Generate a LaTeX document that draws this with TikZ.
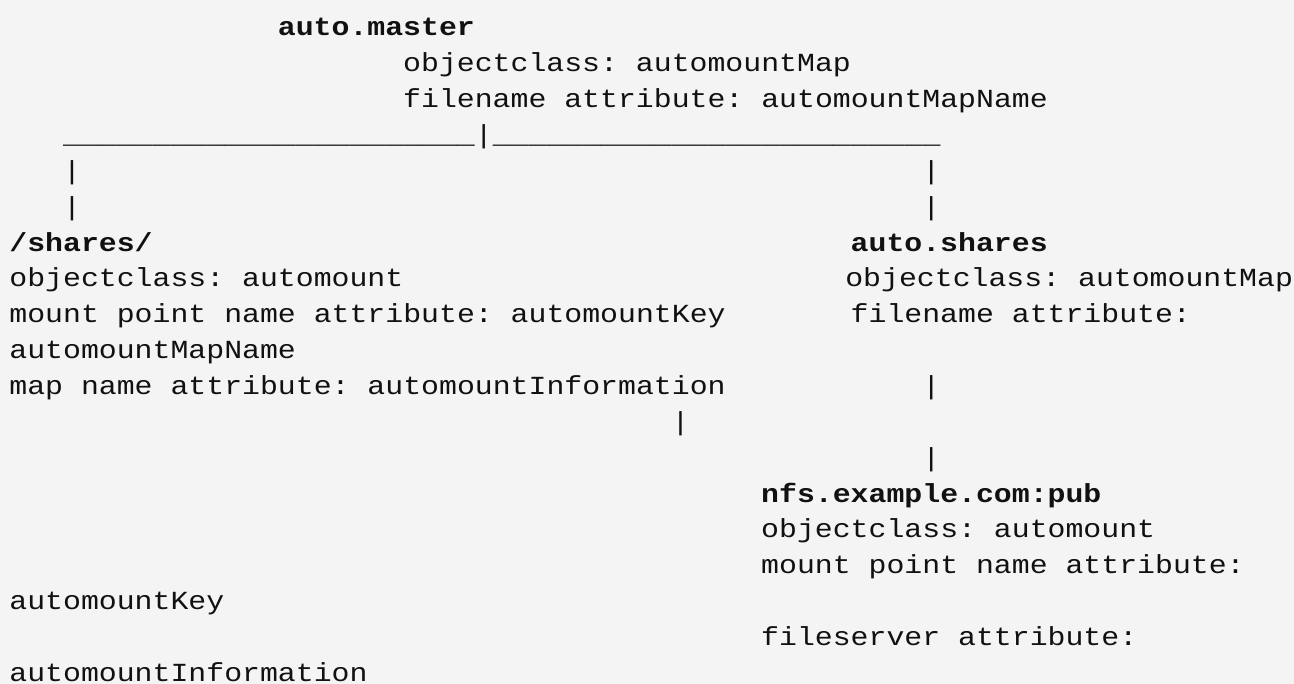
\documentclass[tikz,border=0pt]{standalone}
\usepackage{fontspec}
\newfontfamily\lmono[FakeStretch=1.143]{Liberation Mono}
\definecolor{bgcol}{HTML}{F4F4F4}
\definecolor{txtcol}{HTML}{111111}
\tikzset{
  txt/.style={anchor=base west, inner sep=0pt, outer sep=0pt, text=txtcol,
    font=\lmono\fontsize{19.58pt}{24pt}\selectfont\frenchspacing},
  btxt/.style={txt, font=\lmono\fontsize{19.58pt}{24pt}\selectfont\frenchspacing\bfseries}
}
\newcommand\arow[5]{\node[#1] (#2) at ({9.4+(#3)*17.9},{35.8+(#4)*35.87}) {#5};}
\begin{document}
\begin{tikzpicture}[x=0.75pt,y=-0.75pt]
\fill[bgcol] (0,0) rectangle (1294,684);
\useasboundingbox (0,0) rectangle (1294,684);
\arow{btxt}{master}{15}{0}{auto.master}
\arow{txt}{mastoc}{22}{1}{objectclass: automountMap}
\arow{txt}{mastfn}{22}{2}{filename attribute: automountMapName}
\arow{txt}{branch}{3}{3}{\_\_\_\_\_\_\_\_\_\_\_\_\_\_\_\_\_\_\_\_\_\_\_|\_\_\_\_\_\_\_\_\_\_\_\_\_\_\_\_\_\_\_\_\_\_\_\_\_}
\arow{txt}{barla}{3}{4}{|}
\arow{txt}{barra}{51}{4}{|}
\arow{txt}{barlb}{3}{5}{|}
\arow{txt}{barrb}{51}{5}{|}
\arow{btxt}{shares}{0}{6}{/shares/}
\arow{btxt}{autoshares}{47}{6}{auto.shares}
\arow{txt}{shoc}{0}{7}{objectclass: automount}
\arow{txt}{asoc}{46.7}{7}{objectclass: automountMap}
\arow{txt}{shmp}{0}{8}{mount point name attribute: automountKey}
\arow{txt}{asfn}{47}{8}{filename attribute:}
\arow{txt}{shmn}{0}{9}{automountMapName}
\arow{txt}{shmap}{0}{10}{map name attribute: automountInformation}
\arow{txt}{barrc}{51}{10}{|}
\arow{txt}{barm}{37}{11}{|}
\arow{txt}{barrd}{51}{12}{|}
\arow{btxt}{nfs}{42}{13}{nfs.example.com:pub}
\arow{txt}{nfsoc}{42}{14}{objectclass: automount}
\arow{txt}{nfsmp}{42}{15}{mount point name attribute:}
\arow{txt}{nfskey}{0}{16}{automountKey}
\arow{txt}{nfsfs}{42}{17}{fileserver attribute:}
\arow{txt}{nfsinfo}{0}{18}{automountInformation}
\end{tikzpicture}
\end{document}
